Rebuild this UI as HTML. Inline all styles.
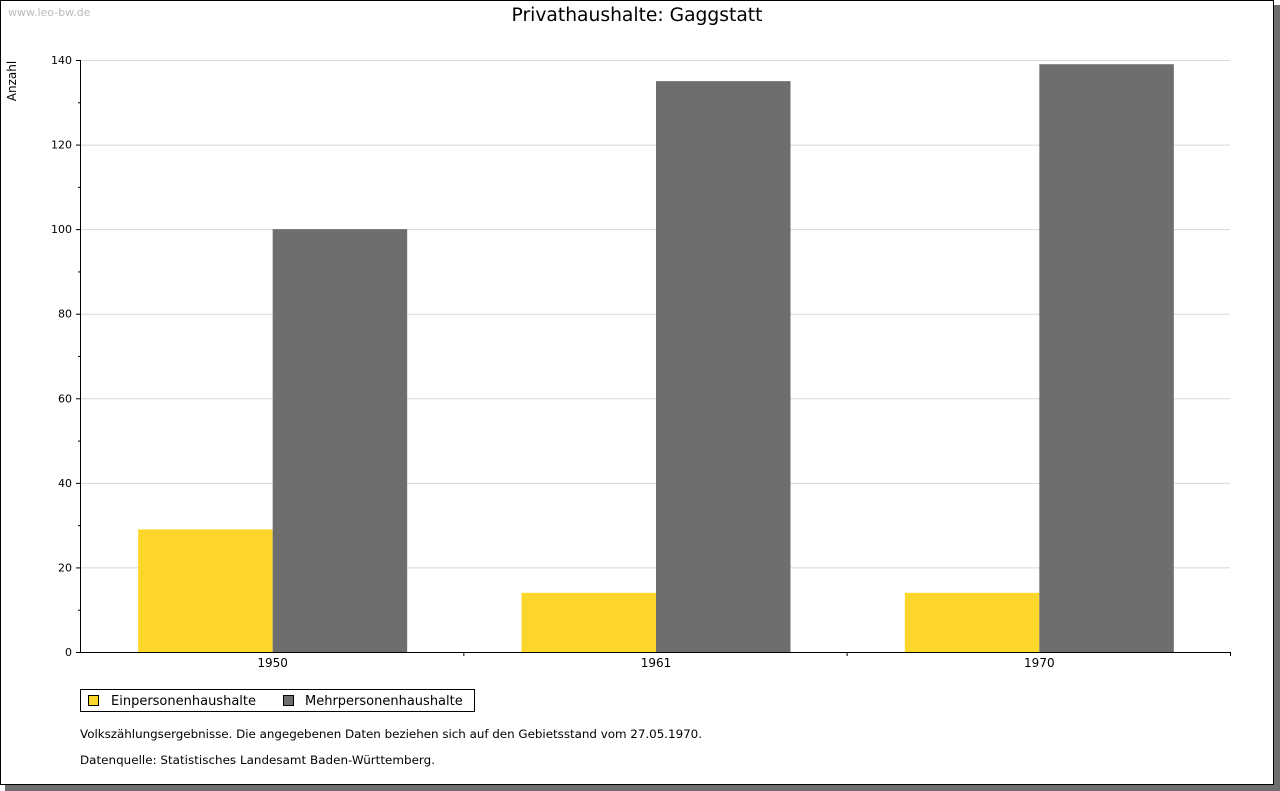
<!DOCTYPE html>
<html><head><meta charset="utf-8"><style>
body{margin:0;width:1280px;height:791px;background:#fff;overflow:hidden}
svg{display:block;font-family:"DejaVu Sans","Liberation Sans",sans-serif}
</style></head><body>
<svg id="c" width="1280" height="791">
<rect x="5" y="5" width="1275" height="786" fill="#6e6e6e"/>
<rect x="0.5" y="0.5" width="1273" height="784" fill="#fff" stroke="#000"/>
<text x="8" y="16" font-size="11" fill="#bbb">www.leo-bw.de</text>
<text x="637" y="21" font-size="18.7" text-anchor="middle">Privathaushalte: Gaggstatt</text>
<text transform="translate(16,81) rotate(-90)" font-size="12" text-anchor="middle">Anzahl</text>
<g id="grid"></g><g id="bars"></g><g id="axes"></g>
<g>
<rect x="80.5" y="689.5" width="394" height="22" fill="#fff" stroke="#000"/>
<rect x="88.5" y="695.5" width="10" height="10" fill="#fdd62c" stroke="#000"/>
<text x="111" y="705" font-size="13">Einpersonenhaushalte</text>
<rect x="283.5" y="695.5" width="10" height="10" fill="#6e6e6e" stroke="#000"/>
<text x="305" y="705" font-size="13">Mehrpersonenhaushalte</text>
</g>
<text x="80" y="738" font-size="11.9" textLength="622">Volkszählungsergebnisse. Die angegebenen Daten beziehen sich auf den Gebietsstand vom 27.05.1970.</text>
<text x="80" y="764" font-size="11.9" textLength="355">Datenquelle: Statistisches Landesamt Baden-Württemberg.</text>
</svg>
<script>
const categories=["1950","1961","1970"];
const einpersonen=[29,14,14];
const mehrpersonen=[100,135,139];
const yTicks=[0,20,40,60,80,100,120,140];
const L=80,R=1230,T=60,B=652,maxV=140;
const y=v=>B-(v/maxV)*(B-T);
const gw=(R-L)/categories.length;
const x=i=>L+i*gw;
const NS="http://www.w3.org/2000/svg";
function mk(p,t,a){const e=document.createElementNS(NS,t);for(const k in a)e.setAttribute(k,a[k]);p.appendChild(e);return e;}
const grid=document.getElementById('grid'),bars=document.getElementById('bars'),axes=document.getElementById('axes');
yTicks.forEach(v=>{
  if(v>0){const g=mk(grid,'line',{x1:L,x2:R,y1:y(v)+0.5,y2:y(v)+0.5,stroke:'#d8d8d8'});
  
  }
  const t=mk(axes,'text',{x:72,y:y(v)+4,'font-size':11,'text-anchor':'end'});t.textContent=v;
  
  
  mk(axes,'line',{x1:L-4,x2:L,y1:y(v)+0.5,y2:y(v)+0.5,stroke:'#000'});
  if(v<maxV)mk(axes,'line',{x1:L-2,x2:L,y1:y(v+10)+0.5,y2:y(v+10)+0.5,stroke:'#000'});
});
const bw=134.5;
categories.forEach((c,i)=>{
  const cx=x(i)+gw/2+1;
  const b1=mk(bars,'rect',{x:cx-bw,y:y(einpersonen[i]),width:bw,height:B-y(einpersonen[i]),fill:'#fdd62c'});
  
  
  const b2=mk(bars,'rect',{x:cx,y:y(mehrpersonen[i]),width:bw,height:B-y(mehrpersonen[i]),fill:'#6e6e6e'});
  
  
  const t=mk(axes,'text',{x:cx,y:B+15,'font-size':12,'text-anchor':'middle'});t.textContent=c;
  
  
  mk(axes,'line',{x1:x(i+1)+0.5,x2:x(i+1)+0.5,y1:B,y2:B+4,stroke:'#000'});
});
mk(axes,'line',{x1:L+0.5,x2:L+0.5,y1:T,y2:B+0.5,stroke:'#000'});
mk(axes,'line',{x1:L,x2:R+1,y1:B+0.5,y2:B+0.5,stroke:'#000'});
</script>
</body></html>
